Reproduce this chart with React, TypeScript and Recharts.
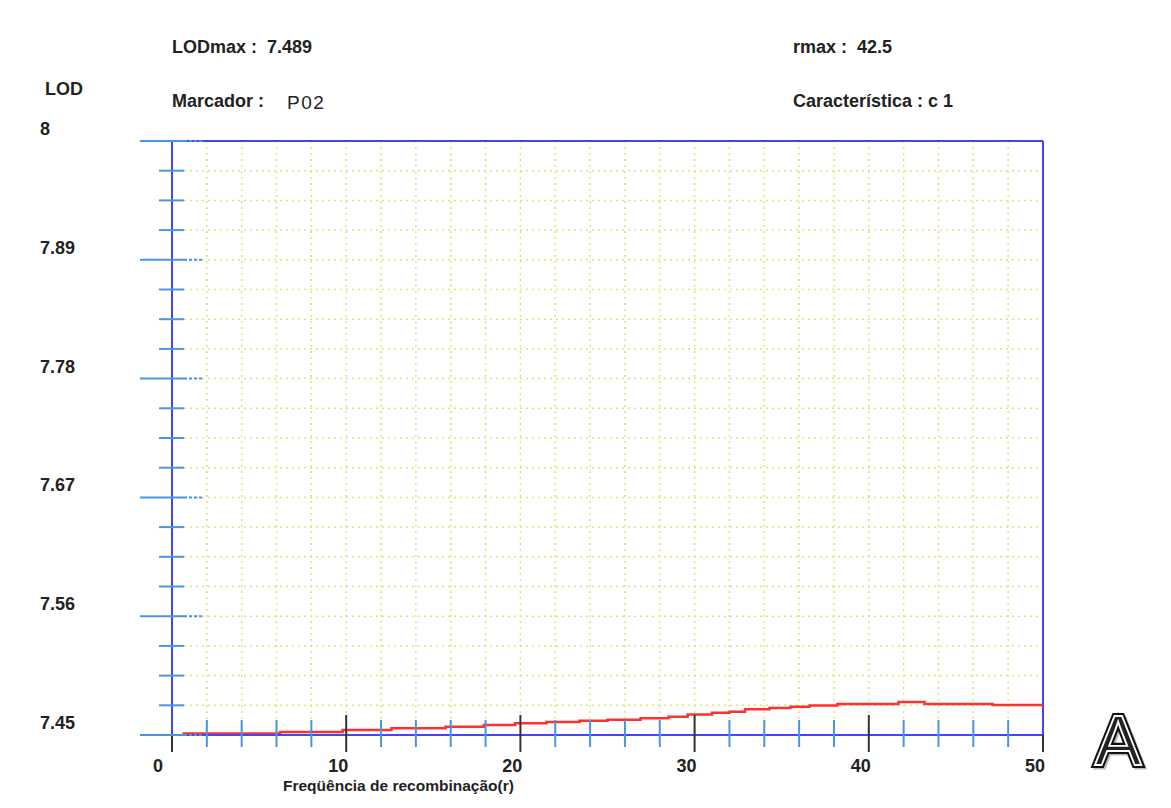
import React from "react";
import { LineChart, Line, XAxis, YAxis, CartesianGrid, ReferenceLine } from "recharts";

const rValues = [0.6, 6.2, 9.8, 12.6, 15.7, 17.9, 19.7, 21.5, 23.4, 25.0, 26.9, 28.5, 29.6, 31.0, 32.0, 32.9, 34.3, 35.5, 36.6, 38.2, 41.7, 43.2, 47.1, 50];
const lodValues = [7.4513, 7.4528, 7.4546, 7.4562, 7.4577, 7.4593, 7.4608, 7.462, 7.4632, 7.4642, 7.4654, 7.4668, 7.469, 7.4705, 7.4716, 7.4738, 7.475, 7.4762, 7.4773, 7.4787, 7.4806, 7.4787, 7.4778, 7.4778];

const xTicks = [0, 2, 4, 6, 8, 10, 12, 14, 16, 18, 20, 22, 24, 26, 28, 30, 32, 34, 36, 38, 40, 42, 44, 46, 48, 50];
const xLabels = [0, 10, 20, 30, 40, 50];
const yTicks = [8, 7.9725, 7.945, 7.9175, 7.89, 7.8625, 7.835, 7.8075, 7.78, 7.7525, 7.725, 7.6975, 7.67, 7.6425, 7.615, 7.5875, 7.56, 7.5325, 7.505, 7.4775, 7.45];
const yLabels = ["8", "7.89", "7.78", "7.67", "7.56", "7.45"];

const data = rValues.map((r, i) => ({ r, lod: lodValues[i] }));

const FONT = '"Liberation Sans", Arial, sans-serif';
const FRAME = "#4646f0";
const TICKBLUE = "#4a94e6";
const DARK = "#333333";

function YTick(props: any) {
  const { x, y, payload } = props;
  const v = payload.value as number;
  const label = yLabels.find((l) => Math.abs(parseFloat(l) - v) < 1e-6);
  if (label) {
    return (
      <g>
        <line x1={x - 32} x2={x + 12} y1={y} y2={y} stroke={TICKBLUE} strokeWidth={2} />
        <line x1={x + 12} x2={x + 30} y1={y} y2={y} stroke={TICKBLUE} strokeWidth={2} strokeDasharray="3 2" />
        <text x={x - 132} y={y - 12} fontFamily={FONT} fontWeight="bold" fontSize={18} fill="#222" dominantBaseline="central">
          {label}
        </text>
      </g>
    );
  }
  return <line x1={x - 13} x2={x + 12} y1={y} y2={y} stroke={TICKBLUE} strokeWidth={2} />;
}

function XTick(props: any) {
  const { x, y, payload } = props;
  const v = payload.value as number;
  const isLabel = xLabels.includes(v);
  if (isLabel) {
    const edge = v === 0 || v === 50;
    return (
      <g>
        <line x1={x} x2={x} y1={edge ? y : y - 20} y2={y + 17} stroke={DARK} strokeWidth={2} />
        <text
          x={v === 0 ? x - 9 : x + 2}
          y={y + 31}
          textAnchor="end"
          fontFamily={FONT}
          fontWeight="bold"
          fontSize={18}
          fill="#222"
          dominantBaseline="central"
        >
          {v}
        </text>
      </g>
    );
  }
  return <line x1={x} x2={x} y1={y - 15} y2={y + 12} stroke={TICKBLUE} strokeWidth={2} />;
}

const textStyle: React.CSSProperties = {
  position: "absolute",
  fontFamily: FONT,
  fontWeight: "bold",
  fontSize: 18,
  color: "#222",
  whiteSpace: "nowrap",
  lineHeight: "20px",
};

export default function App() {
  return (
    <div style={{ position: "absolute", left: 0, top: 0, width: 1171, height: 808, background: "#fff" }}>
      <LineChart width={1171} height={808} data={data} margin={{ top: 141, right: 128, bottom: 13, left: 72 }}>
        <CartesianGrid stroke="#e2e27a" strokeDasharray="2 4" strokeWidth={1.5} />
        <XAxis
          dataKey="r"
          type="number"
          domain={[0, 50]}
          ticks={xTicks}
          interval={0}
          tickSize={0}
          tickMargin={0}
          height={60}
          tick={<XTick />}
          axisLine={{ stroke: FRAME, strokeWidth: 2 }}
          allowDataOverflow
        />
        <YAxis
          type="number"
          domain={[7.45, 8]}
          ticks={yTicks}
          interval={0}
          tickSize={0}
          tickMargin={0}
          width={100}
          tick={<YTick />}
          axisLine={{ stroke: FRAME, strokeWidth: 2 }}
          allowDataOverflow
        />
        <ReferenceLine y={8} stroke={FRAME} strokeWidth={2} ifOverflow="visible" />
        <ReferenceLine x={50} stroke={FRAME} strokeWidth={2} ifOverflow="visible" />
        <Line
          dataKey="lod"
          type="stepAfter"
          stroke="#ff3030"
          strokeWidth={2.5}
          dot={false}
          isAnimationActive={false}
        />
      </LineChart>

      <div style={{ ...textStyle, left: 172, top: 37 }}>LODmax :&nbsp;&nbsp;7.489</div>
      <div style={{ ...textStyle, left: 793, top: 37 }}>rmax :&nbsp;&nbsp;42.5</div>
      <div style={{ ...textStyle, left: 45, top: 79 }}>LOD</div>
      <div style={{ ...textStyle, left: 172, top: 91 }}>Marcador :</div>
      <div style={{ ...textStyle, left: 287, top: 93, fontWeight: "normal", fontSize: 19, letterSpacing: 1.5 }}>P02</div>
      <div style={{ ...textStyle, left: 793, top: 91 }}>Característica : c 1</div>
      <div style={{ ...textStyle, left: 283, top: 777, fontSize: 15.5, lineHeight: "18px" }}>Freqüência de recombinação(r)</div>

      <svg style={{ position: "absolute", left: 1070, top: 695 }} width={96} height={90}>
        <text x={48} y={70} textAnchor="middle" fontFamily={FONT} fontSize={70} fill="#bbb" stroke="#bbb" strokeWidth={5} transform="translate(2,2)">
          A
        </text>
        <text x={48} y={70} textAnchor="middle" fontFamily={FONT} fontSize={70} fill="#111" stroke="#111" strokeWidth={6}>
          A
        </text>
        <text x={48} y={70} textAnchor="middle" fontFamily={FONT} fontSize={70} fill="#222" stroke="#fff" strokeWidth={1.8}>
          A
        </text>
      </svg>
    </div>
  );
}
